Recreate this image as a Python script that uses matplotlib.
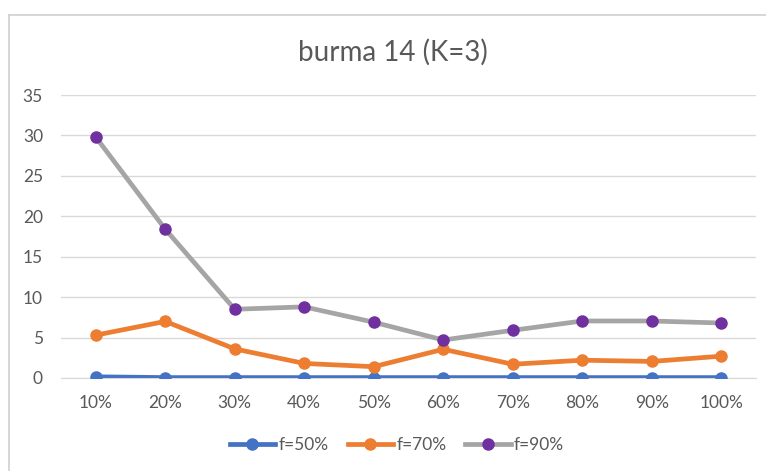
import matplotlib
matplotlib.use("Agg")
import matplotlib.pyplot as plt
from matplotlib.lines import Line2D

categories = ["10%", "20%", "30%", "40%", "50%", "60%", "70%", "80%", "90%", "100%"]
f50 = [0.15, 0.05, 0.05, 0.05, 0.05, 0.05, 0.05, 0.05, 0.05, 0.05]
f70 = [5.3, 7.0, 3.6, 1.8, 1.4, 3.55, 1.7, 2.2, 2.05, 2.7]
f90 = [29.8, 18.4, 8.5, 8.8, 6.9, 4.7, 5.9, 7.05, 7.05, 6.8]

plt.rcParams['font.family'] = ['Lato', 'DejaVu Sans']
txt = '#595959'
grid = '#D9D9D9'

fig = plt.figure(figsize=(7.66, 4.71), dpi=100)
ax = fig.add_axes([61/766, 1-378/471, 695/766, 283/471])

x = list(range(len(categories)))
ax.plot(x, f50, color='#4472C4', lw=3.4, marker='o', ms=8, label='f=50%', zorder=3)
ax.plot(x, f70, color='#ED7D31', lw=3.4, marker='o', ms=8, label='f=70%', zorder=3)
ax.plot(x, f90, color='#A5A5A5', lw=3.4, marker='o', ms=8, mfc='#7030A0', mec='#7030A0',
        label='f=90%', zorder=3)

ax.set_xlim(-0.5, len(categories) - 0.5)
ax.set_ylim(0, 35)
ax.set_yticks(range(0, 36, 5))
ax.set_xticks(x)
ax.set_xticklabels(categories)
ax.yaxis.grid(True, color=grid, lw=1)
ax.set_axisbelow(True)
for s in ['top', 'right', 'left']:
    ax.spines[s].set_visible(False)
ax.spines['bottom'].set_color(grid)
ax.tick_params(length=0, labelsize=12.5, labelcolor=txt)
ax.tick_params(axis='y', pad=13)
ax.tick_params(axis='x', pad=12)

fig.text(393/766, 1-52/471, 'burma 14 (K=3)', ha='center', va='center', fontsize=20, color=txt)

fig.legend(loc='center', bbox_to_anchor=(397/766, 1-445/471), ncol=3, frameon=False,
           fontsize=12.5, labelcolor=txt, handlelength=2.6, handletextpad=0.2,
           columnspacing=1.1)

# thin frame on the left and top edges
fig.add_artist(Line2D([9/766, 9/766], [0, 1-15/471], color='#D0D0D0', lw=1.2))
fig.add_artist(Line2D([9/766, 1], [1-15/471, 1-15/471], color='#D0D0D0', lw=1.2))

fig.savefig('out.png', dpi=100)
